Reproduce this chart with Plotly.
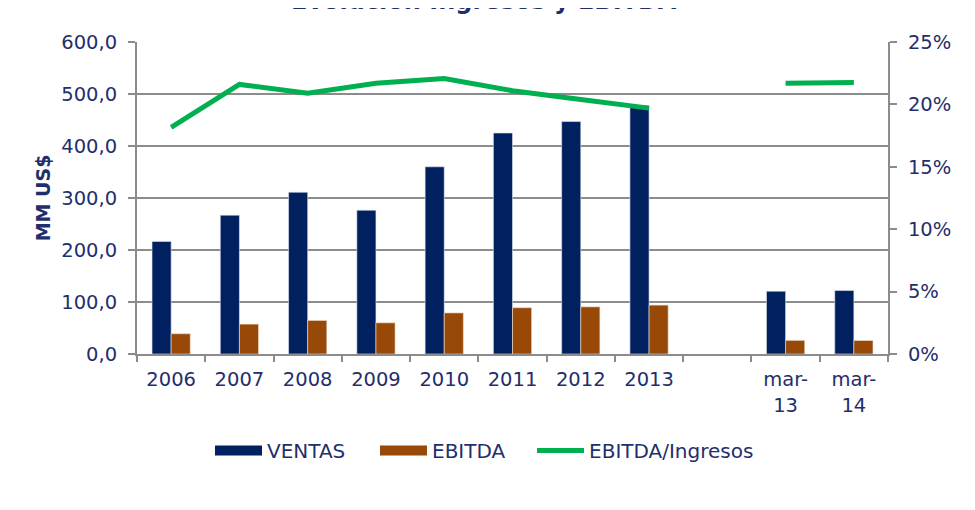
import plotly.graph_objects as go

categories = ["2006", "2007", "2008", "2009", "2010", "2011", "2012", "2013", " ", "mar-<br>13", "mar-<br>14"]
ventas = [216.5, 267, 311, 276.5, 360, 425, 447, 478, None, 120.7, 122]
ebitda = [39, 57.5, 64.5, 60, 79, 89, 90.7, 94, None, 26.2, 26]
margen = [0.1816, 0.216, 0.209, 0.217, 0.2207, 0.211, 0.204, 0.197, None, 0.217, 0.2175]

NAVY = "#002060"
BROWN = "#984807"
GREEN = "#00B050"
TXT = "#1F2F6B"
GRID = "#8C8C8C"
FONT = "DejaVu Sans"

fig = go.Figure()
fig.add_trace(go.Bar(x=categories, y=ventas, name="VENTAS", showlegend=False,
                     marker=dict(color=NAVY, line=dict(color="#E0E4EE", width=0.6))))
fig.add_trace(go.Bar(x=categories, y=ebitda, name="EBITDA", showlegend=False,
                     marker=dict(color=BROWN, line=dict(color="#F0E0D0", width=0.6))))
fig.add_trace(go.Scatter(x=categories, y=margen, name="EBITDA/Ingresos", yaxis="y2", mode="lines",
                         connectgaps=False, showlegend=False, line=dict(color=GREEN, width=5)))

# legend entries styled like the reference's wide swatches
fig.add_trace(go.Scatter(x=[None], y=[None], name="VENTAS", mode="lines", legend="legend",
                         line=dict(color=NAVY, width=10)))
fig.add_trace(go.Scatter(x=[None], y=[None], name="EBITDA", mode="lines", legend="legend2",
                         line=dict(color=BROWN, width=10)))
fig.add_trace(go.Scatter(x=[None], y=[None], name="EBITDA/Ingresos", mode="lines", legend="legend3",
                         line=dict(color=GREEN, width=5)))

leg_common = dict(orientation="h", xanchor="left", y=-0.309, yanchor="middle",
                  font=dict(size=20, color=TXT, family=FONT), bgcolor="rgba(0,0,0,0)", itemwidth=47)

fig.update_layout(
    width=975, height=510,
    margin=dict(l=129, r=95, t=34, b=163.5, autoexpand=False),
    paper_bgcolor="white", plot_bgcolor="white",
    font=dict(family=FONT, color=TXT, size=19),
    separators=",.",
    barmode="group", bargap=0.44, bargroupgap=0,
    showlegend=True,
    legend=dict(x=0.0972, **leg_common),
    legend2=dict(x=0.3169, **leg_common),
    legend3=dict(x=0.5260, **leg_common),
    xaxis=dict(type="category", categoryorder="array", categoryarray=categories,
               showline=True, linecolor=GRID, linewidth=2, ticks="outside", tickson="boundaries",
               ticklen=6, tickcolor=GRID, tickwidth=1.5, showgrid=False, ticklabelstandoff=7,
               tickfont=dict(size=19.5, color=TXT), zeroline=False),
    yaxis=dict(range=[0, 600], dtick=100, tickformat=".1f", showline=True, linecolor=GRID, linewidth=2,
               ticks="outside", ticklen=7, tickcolor=GRID, tickwidth=1.5, ticklabelstandoff=7,
               showgrid=True, gridcolor=GRID, gridwidth=1.5, zeroline=False,
               tickfont=dict(size=19.5, color=TXT),
               title=dict(text="<b>MM US$</b>", font=dict(size=19, color=TXT), standoff=6)),
    yaxis2=dict(range=[0, 0.25], dtick=0.05, tickformat=".0%", overlaying="y", side="right",
                showline=True, linecolor=GRID, linewidth=2, ticks="outside", ticklen=7,
                tickcolor=GRID, tickwidth=1.5, showgrid=False, zeroline=False, ticklabelstandoff=7,
                tickfont=dict(size=19.5, color=TXT)),
)

fig.add_annotation(text="<b>Evolución Ingresos y EBITDA</b>", xref="paper", yref="paper",
                   x=0.4627, y=1.131, xanchor="center", yanchor="middle", showarrow=False,
                   font=dict(size=24, color=TXT, family=FONT))

fig.write_html("out.html")
